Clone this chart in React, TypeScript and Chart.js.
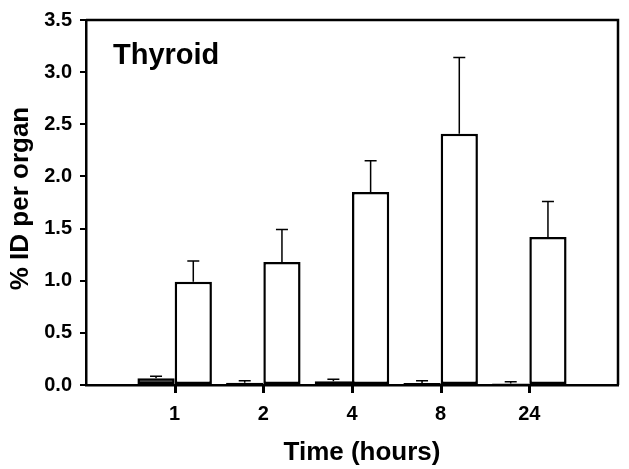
import React, { useEffect, useRef } from 'react';
import { Chart, registerables } from 'chart.js';

Chart.register(...registerables);

const categories = ['1', '2', '4', '8', '24'];
const blackValues = [0.065, 0.022, 0.037, 0.02, 0.015];
const blackErrors = [0.02, 0.018, 0.019, 0.02, 0.015];
const whiteValues = [0.99, 1.18, 1.85, 2.41, 1.42];
const whiteErrors = [0.2, 0.31, 0.3, 0.73, 0.34];
const yTickValues = [0, 0.5, 1.0, 1.5, 2.0, 2.5, 3.0, 3.5];
const chartTitle = 'Thyroid';
const xTitle = 'Time (hours)';
const yTitle = '% ID per organ';

const FONT = "'Liberation Sans', Arial, sans-serif";

const labels = ['', ...categories, ''];
const pad = (arr: number[]) => [null, ...arr, null];

const errorData = [blackErrors, whiteErrors];

const decorPlugin = {
  id: 'decor',
  afterDatasetsDraw(chart: any) {
    const ctx = chart.ctx;
    const y = chart.scales.y;
    ctx.save();
    ctx.strokeStyle = '#000';
    ctx.lineWidth = 1.5;
    chart.data.datasets.forEach((ds: any, di: number) => {
      const meta = chart.getDatasetMeta(di);
      meta.data.forEach((el: any, i: number) => {
        const v = ds.data[i];
        if (v == null) return;
        const err = errorData[di][i - 1];
        const top = y.getPixelForValue(v);
        const yE = y.getPixelForValue(v + err);
        ctx.beginPath();
        ctx.moveTo(el.x, top);
        ctx.lineTo(el.x, yE);
        ctx.moveTo(el.x - 6, yE);
        ctx.lineTo(el.x + 6, yE);
        ctx.stroke();
      });
    });
    ctx.restore();
  },
  afterDraw(chart: any) {
    const ctx = chart.ctx;
    const a = chart.chartArea;
    ctx.save();
    ctx.strokeStyle = '#000';
    ctx.lineWidth = 2.5;
    ctx.beginPath();
    ctx.moveTo(a.left, a.top);
    ctx.lineTo(a.right, a.top);
    ctx.lineTo(a.right, a.bottom);
    ctx.stroke();

    // x tick marks at category centres (between the paired bars)
    ctx.fillStyle = '#000';
    const step = (a.right - a.left) / (labels.length - 1);
    categories.forEach((_, i) => {
      const px = a.left + step * (i + 1);
      ctx.fillRect(Math.round(px) - 1, a.bottom, 3, 8);
    });

    ctx.font = `bold 29px ${FONT}`;
    ctx.textAlign = 'left';
    ctx.textBaseline = 'alphabetic';
    ctx.fillText(chartTitle, 113, 64);

    ctx.font = `bold 26px ${FONT}`;
    ctx.textAlign = 'center';
    ctx.fillText(xTitle, 362, 460);

    ctx.translate(28, 198.5);
    ctx.rotate(-Math.PI / 2);
    ctx.fillText(yTitle, 0, 0);
    ctx.restore();
  },
};

export default function App() {
  const ref = useRef<HTMLCanvasElement>(null);
  useEffect(() => {
    if (!ref.current) return;
    const chart = new Chart(ref.current, {
      type: 'bar',
      data: {
        labels,
        datasets: [
          {
            data: pad(blackValues) as any,
            backgroundColor: '#000',
            borderColor: '#000',
            borderWidth: 2.5,
            borderSkipped: false,
            barPercentage: 1,
            categoryPercentage: 0.84,
          },
          {
            data: pad(whiteValues) as any,
            backgroundColor: '#fff',
            borderColor: '#000',
            borderWidth: 2.5,
            borderSkipped: false,
            barPercentage: 1,
            categoryPercentage: 0.84,
          },
        ],
      },
      options: {
        responsive: false,
        animation: false,
        layout: { padding: { top: 12, right: 7, left: 0, bottom: 0 } },
        plugins: {
          legend: { display: false },
          tooltip: { enabled: false },
          title: { display: false },
        },
        scales: {
          x: {
            type: 'category',
            offset: false,
            afterFit: (s: any) => {
              s.height = 84;
            },
            grid: {
              display: false,
              tickLength: 6,
            },
            border: { display: true, color: '#000', width: 2.5 },
            ticks: {
              color: '#000',
              font: { family: FONT, size: 20, weight: 'bold' },
              padding: 11,
              maxRotation: 0,
              autoSkip: false,
            },
          },
          y: {
            min: 0,
            max: 3.5,
            afterFit: (s: any) => {
              s.width = 86;
            },
            afterBuildTicks: (s: any) => {
              s.ticks = yTickValues.map((v) => ({ value: v }));
            },
            grid: {
              display: true,
              drawOnChartArea: false,
              drawTicks: true,
              tickLength: 6,
              lineWidth: 2,
              color: '#000',
            },
            border: { display: true, color: '#000', width: 2.5 },
            ticks: {
              color: '#000',
              font: { family: FONT, size: 20, weight: 'bold' },
              padding: 8,
              callback: (v: any) => Number(v).toFixed(1),
            },
          },
        },
      },
      plugins: [decorPlugin],
    });
    return () => chart.destroy();
  }, []);
  return (
    <div style={{ position: 'absolute', left: 0, top: 0, width: 629, height: 469, background: '#fff' }}>
      <canvas ref={ref} width={629} height={469} />
    </div>
  );
}
